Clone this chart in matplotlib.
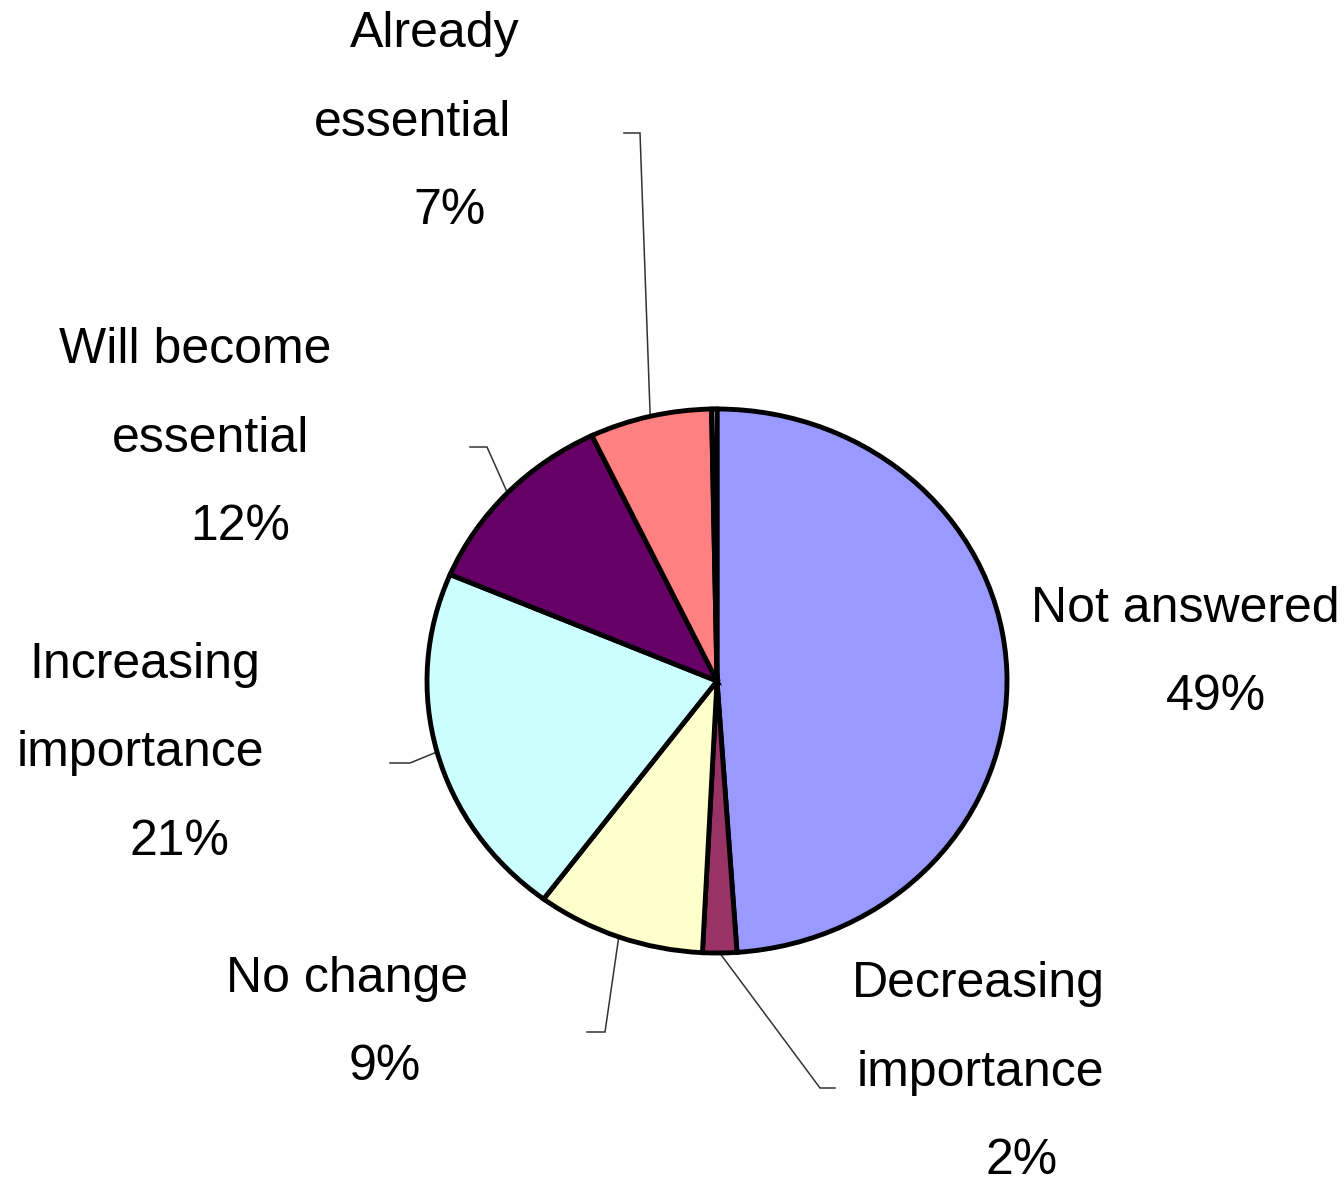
import numpy as np
import matplotlib
matplotlib.use("Agg")
import matplotlib.pyplot as plt

plt.rcParams['font.family'] = ['Liberation Sans', 'DejaVu Sans']

# shares, clockwise from 12 o'clock
categories = ["Not answered", "Decreasing importance", "No change",
              "Increasing importance", "Will become essential",
              "Already essential", ""]
shares = [48.9, 1.9, 9.4, 21.2, 11.5, 6.8, 0.3]
colors = ["#9999FF", "#993366", "#FFFFCC", "#CCFFFF", "#660066",
          "#FF8080", "#FFFFFF"]

# label lines, how each name is split in the picture
name_lines = [["Not answered"], ["Decreasing", "importance"], ["No change"],
              ["Increasing", "importance"], ["Will become", "essential"],
              ["Already", "essential"], []]

W, H = 1344, 1186
cx, cy, rx, ry = 717, 681, 290, 272   # pie centre / radii in pixels

fig = plt.figure(figsize=(W / 100, H / 100), dpi=100)

# overlay axes in pixel coordinates for labels and leader lines
ax_txt = fig.add_axes([0, 0, 1, 1])
ax_txt.set_xlim(0, W)
ax_txt.set_ylim(H, 0)
ax_txt.axis("off")

ax = fig.add_axes([(cx - rx) / W, (H - cy - ry) / H, 2 * rx / W, 2 * ry / H])
wedges, _ = ax.pie(shares, colors=colors, startangle=90, counterclock=False,
                   radius=1.0,
                   wedgeprops=dict(edgecolor="black", linewidth=3.5, clip_on=False))
ax.set_aspect("auto")
ax.set_xlim(-1, 1)
ax.set_ylim(-1, 1)
ax.axis("off")


def edge_px(w):
    mid = np.deg2rad((w.theta1 + w.theta2) / 2)
    return cx + rx * np.cos(mid), cy - ry * np.sin(mid)


# label placement: centre x of each line (name lines then %), first baseline y
label_x = [[1185, 1216], [978, 980, 1022], [347, 385],
           [145, 140, 179], [195, 211, 240], [435, 413, 450], None]
label_y = [622, 997, 992, 678, 363, 47, None]
# leader line knees: (outer end, knee)
leaders = [None, ((835, 1088), (820, 1088)), ((587, 1032), (605, 1032)),
           ((390, 763), (410, 763)), ((470, 447), (487, 447)),
           ((624, 133), (640, 133)), None]

total = sum(shares)
line_gap = 88.5
for w, v, lines, xs, y, lead in zip(wedges, shares, name_lines, label_x,
                                    label_y, leaders):
    if xs is None:
        continue
    texts = lines + [f"{v / total * 100:.0f}%"]
    for i, (s, x) in enumerate(zip(texts, xs)):
        ax_txt.text(x, y + i * line_gap, s, fontsize=36, ha="center",
                    va="baseline", color="black")
    if lead is not None:
        ex, ey = edge_px(w)
        (x0, y0), (x1, y1) = lead
        ax_txt.plot([x0, x1, ex], [y0, y1, ey], color="#333333", lw=1.1,
                    solid_joinstyle="miter")

fig.savefig("out.png", dpi=100)
